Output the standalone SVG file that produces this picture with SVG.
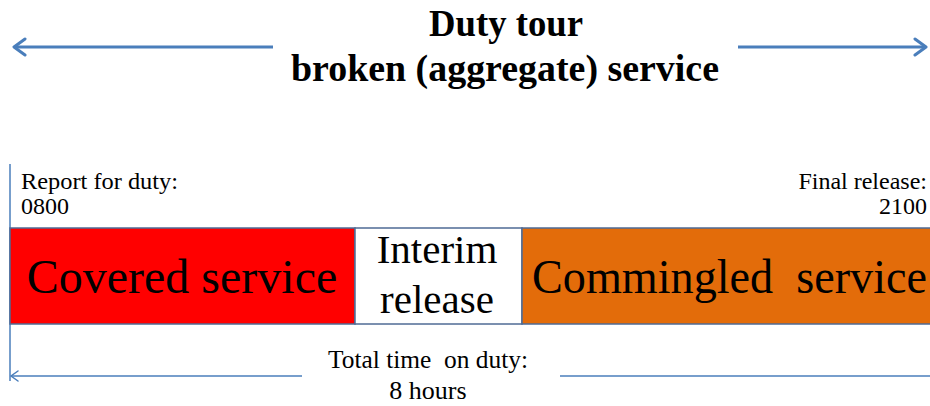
<svg xmlns="http://www.w3.org/2000/svg" width="930" height="406" viewBox="0 0 930 406">
<style>
.t{font-family:"Liberation Serif","Times New Roman",serif;fill:#000}
.b{font-weight:bold}
.ln{stroke:#4a7ebb;fill:none}
.box{stroke:#4f6b95;stroke-width:1.5}
</style>
<defs>
<marker id="ah" viewBox="-16 -10 18 20" refX="0" refY="0" markerWidth="18" markerHeight="20" orient="auto" markerUnits="userSpaceOnUse">
<path d="M-11,-8 L0,0 L-11,8" fill="none" stroke="#4a7ebb" stroke-width="3" stroke-linecap="round" stroke-linejoin="round"/>
</marker>
<marker id="ahs" viewBox="-10 -7 12 14" refX="0" refY="0" markerWidth="12" markerHeight="14" orient="auto" markerUnits="userSpaceOnUse">
<path d="M-7,-5 L0,0 L-7,5" fill="none" stroke="#4a7ebb" stroke-width="1.5" stroke-linecap="round"/>
</marker>
</defs>
<rect width="930" height="406" fill="#fff"/>
<g id="title">
<text class="t b" x="506" y="36" font-size="37" text-anchor="middle" textLength="154" lengthAdjust="spacingAndGlyphs">Duty tour</text>
<text class="t b" x="505" y="81" font-size="37" text-anchor="middle" textLength="428" lengthAdjust="spacingAndGlyphs">broken (aggregate) service</text>
</g>
<g id="connectors">
<line class="ln" x1="273" y1="47" x2="14" y2="47" stroke-width="3" marker-end="url(#ah)"/>
<line class="ln" x1="738" y1="47" x2="926" y2="47" stroke-width="3" marker-end="url(#ah)"/>
<line class="ln" x1="10" y1="164" x2="10" y2="381" stroke-width="1.5"/>
<line class="ln" x1="302" y1="376" x2="11" y2="376" stroke-width="1.5" marker-end="url(#ahs)"/>
<line class="ln" x1="560" y1="376" x2="930" y2="376" stroke-width="1.5"/>
</g>
<g id="report">
<text class="t" x="21" y="189" font-size="24" textLength="157" lengthAdjust="spacingAndGlyphs">Report for duty:</text>
<text class="t" x="21" y="214" font-size="24">0800</text>
</g>
<g id="final">
<text class="t" x="927" y="189" font-size="24" text-anchor="end">Final release:</text>
<text class="t" x="927" y="214" font-size="24" text-anchor="end">2100</text>
</g>
<g id="covered">
<rect class="box" x="10" y="228" width="345" height="96" fill="#ff0000"/>
<text class="t" x="182" y="293" font-size="48" text-anchor="middle">Covered service</text>
</g>
<g id="interim">
<rect class="box" x="355" y="228" width="167" height="96" fill="#fff"/>
<text class="t" x="437" y="263" font-size="41" text-anchor="middle">Interim</text>
<text class="t" x="437" y="313" font-size="41" text-anchor="middle">release</text>
</g>
<g id="commingled">
<rect class="box" x="522" y="228" width="412" height="96" fill="#e36c0a"/>
<text class="t" x="532" y="293" font-size="48" xml:space="preserve" textLength="395" lengthAdjust="spacingAndGlyphs">Commingled  service</text>
</g>
<g id="total">
<text class="t" x="428" y="368" font-size="25" text-anchor="middle" xml:space="preserve" textLength="200" lengthAdjust="spacingAndGlyphs">Total time  on duty:</text>
<text class="t" x="428" y="399" font-size="26" text-anchor="middle">8 hours</text>
</g>
</svg>
